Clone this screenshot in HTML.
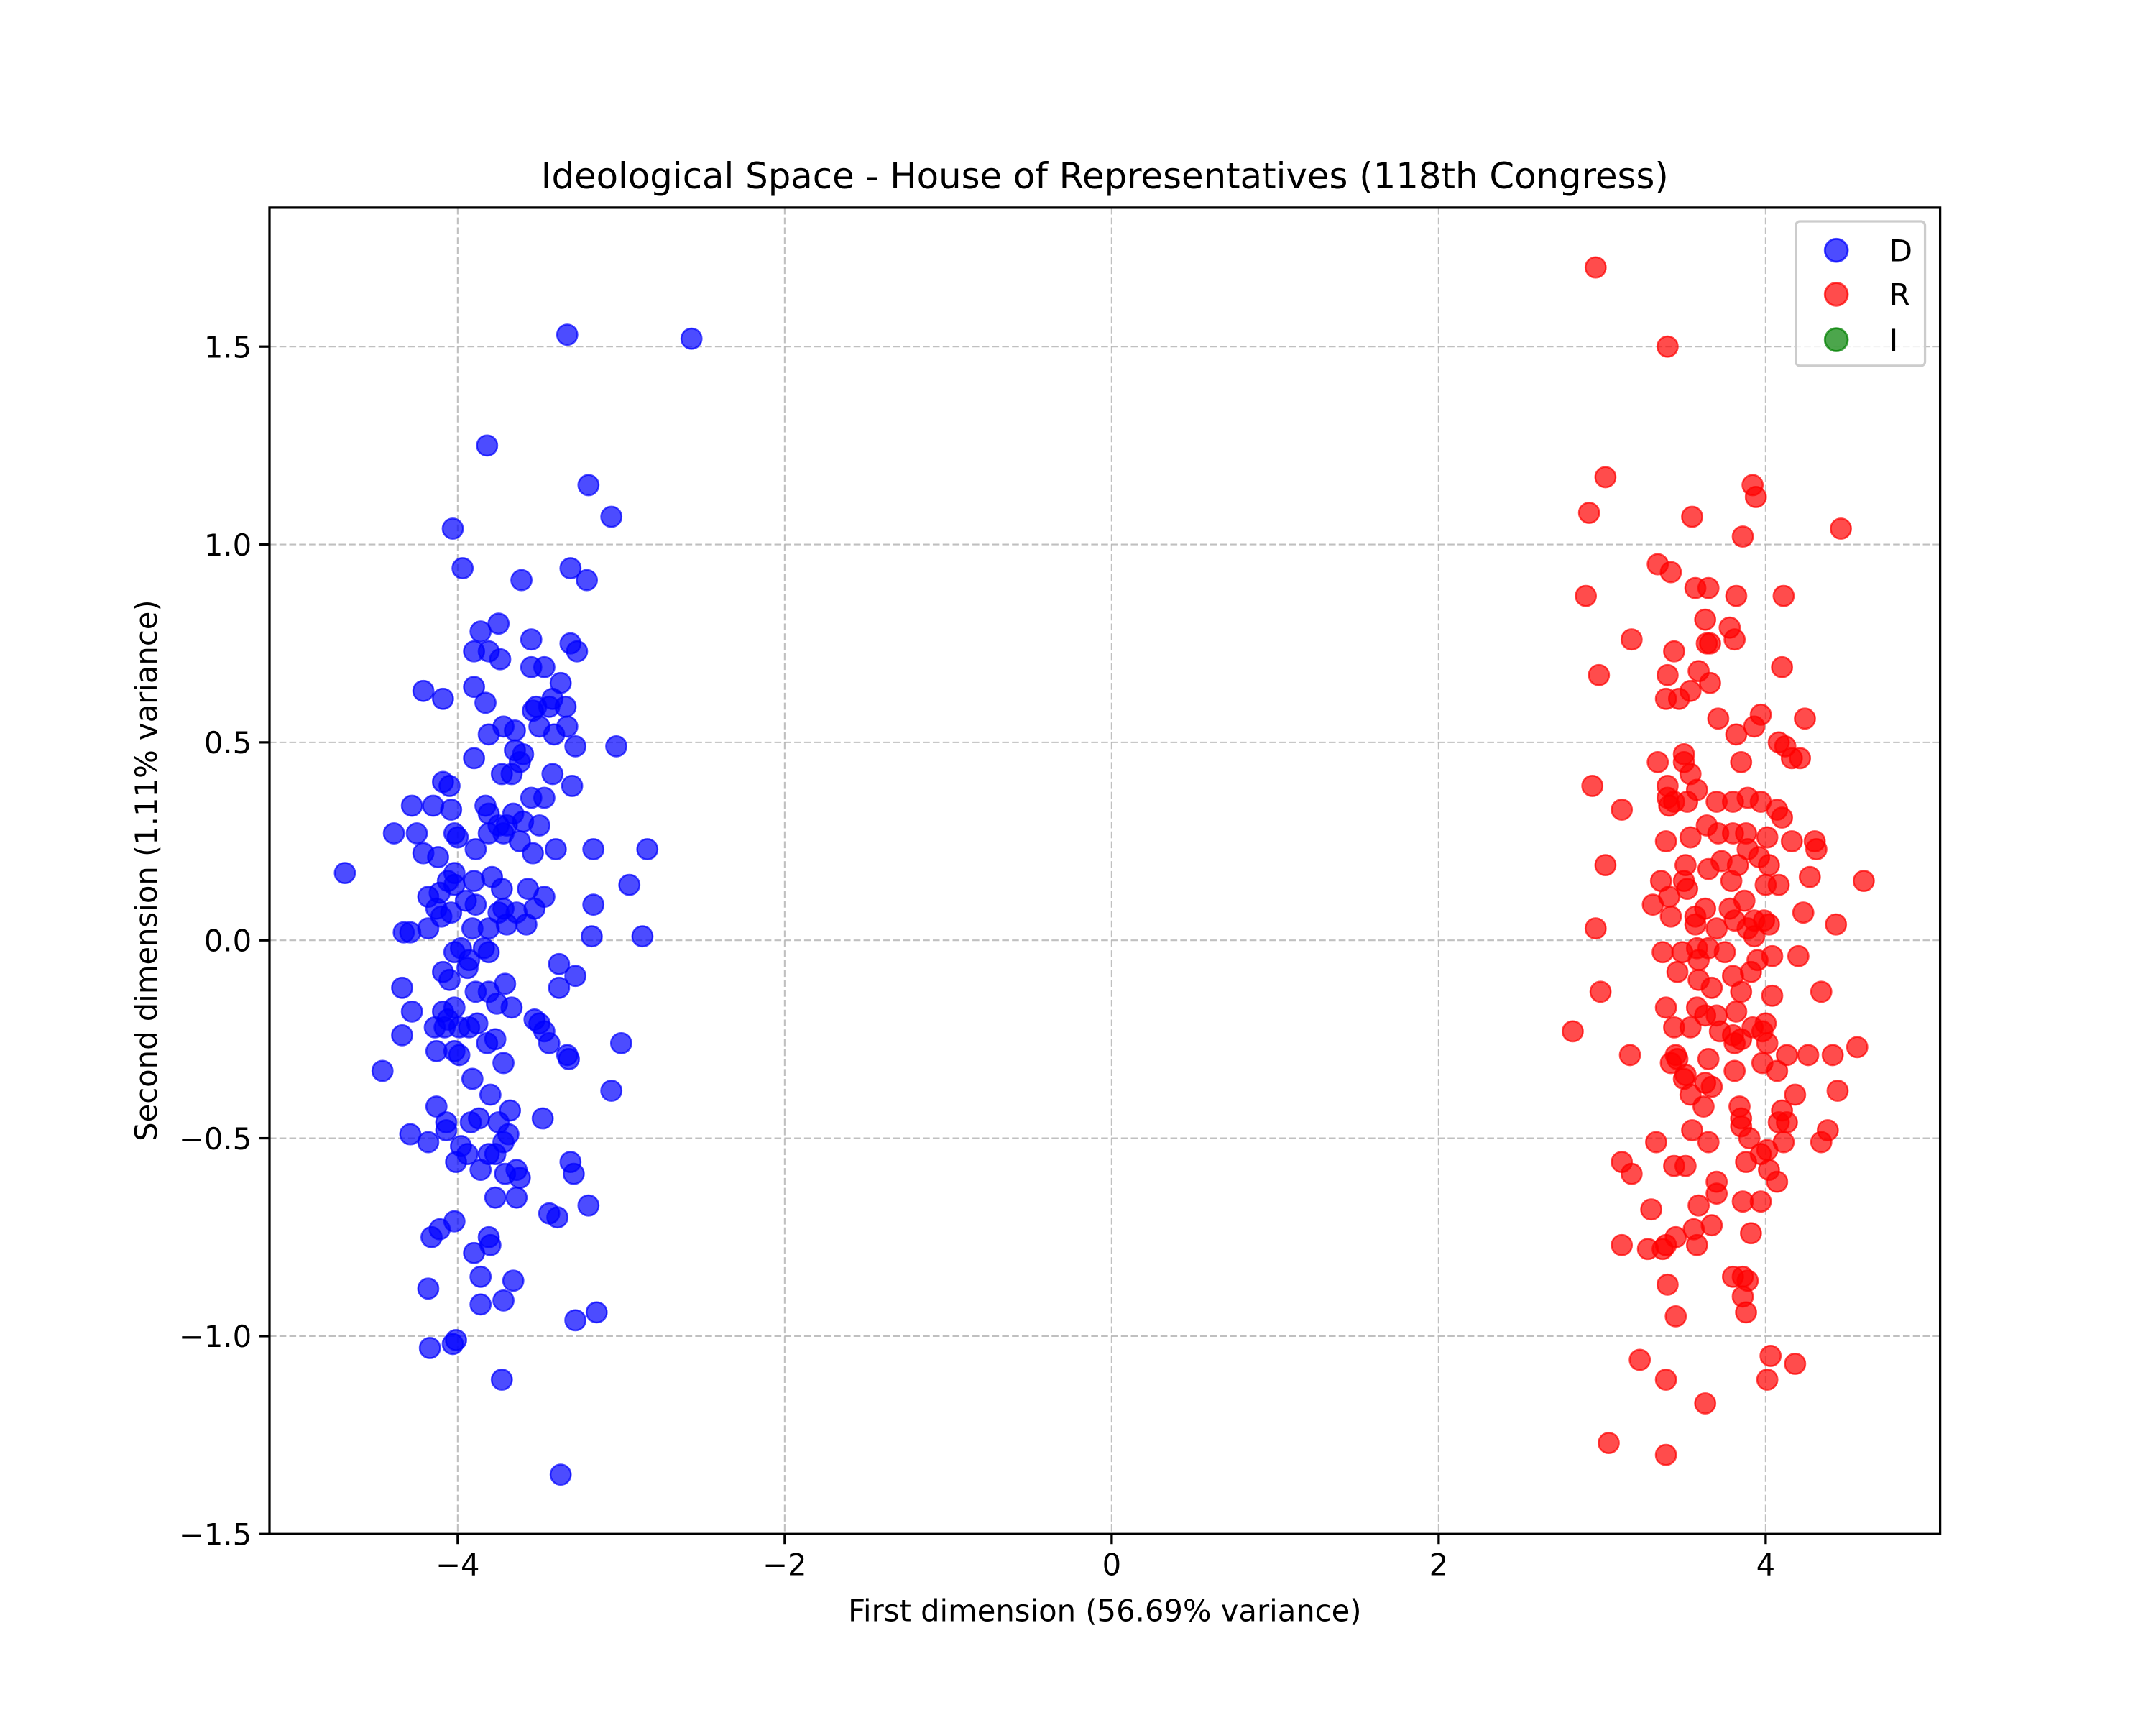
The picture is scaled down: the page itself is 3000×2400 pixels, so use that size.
<!DOCTYPE html>
<html><head><meta charset="utf-8"><style>
html,body{margin:0;padding:0;background:#fff}
svg{display:block}
text{font-family:"DejaVu Sans","Liberation Sans",sans-serif;fill:#000}
</style></head><body>
<svg id="chart" width="3000" height="2400" viewBox="0 0 1568 1254.4" xmlns="http://www.w3.org/2000/svg">
<rect width="1568" height="1254.4" fill="#fff"/>
<g id="grid"></g>
<g id="points"></g>
<rect x="196" y="151" width="1215" height="964.5" fill="none" stroke="#000" stroke-width="1.7"/>
<g id="ticks"></g>
<text x="803.5" y="137" font-size="26" text-anchor="middle">Ideological Space - House of Representatives (118th Congress)</text>
<text x="803.5" y="1179" font-size="21.8" text-anchor="middle">First dimension (56.69% variance)</text>
<text transform="translate(114,633) rotate(-90)" font-size="21.8" text-anchor="middle">Second dimension (1.11% variance)</text>
<g>
<rect x="1306" y="161" width="94" height="105" rx="3" fill="#fff" fill-opacity="0.8" stroke="#ccc" stroke-width="1.7"/>
<g><circle cx="1335.5" cy="182" r="8.3" fill="#0000ff" fill-opacity="0.7" stroke="#0000ff" stroke-opacity="0.7" stroke-width="1.5"/><text x="1374" y="190" font-size="21.8">D</text></g>
<g><circle cx="1335.5" cy="214" r="8.3" fill="#ff0000" fill-opacity="0.7" stroke="#ff0000" stroke-opacity="0.7" stroke-width="1.5"/><text x="1374" y="222" font-size="21.8">R</text></g>
<g><circle cx="1335.5" cy="247" r="8.3" fill="#008000" fill-opacity="0.7" stroke="#008000" stroke-opacity="0.7" stroke-width="1.5"/><text x="1374" y="255" font-size="21.8">I</text></g>
</g>
</svg>
<script>
const xTicks = [-4, -2, 0, 2, 4];
const xTickLabels = ["\u22124", "\u22122", "0", "2", "4"];
const yTicks = [-1.5, -1.0, -0.5, 0.0, 0.5, 1.0, 1.5];
const yTickLabels = ["\u22121.5", "\u22121.0", "\u22120.5", "0.0", "0.5", "1.0", "1.5"];
const demX = [-4.69,-3.33,-2.57,-3.82,-3.20,-4.03,-3.06,-3.97,-3.61,-3.31,-3.21,-3.75,-3.86,-3.55,-3.74,-3.31,-3.27,-4.21,-4.09,-3.90,-3.83,-3.37,-3.90,-3.81,-3.55,-3.47,-3.81,-3.72,-3.54,-3.44,-3.34,-3.65,-3.50,-3.33,-3.03,-3.42,-3.52,-3.90,-3.65,-3.62,-3.73,-3.41,-3.60,-3.28,-3.42,-3.67,-3.30,-4.28,-4.15,-4.04,-3.83,-3.81,-3.55,-3.47,-3.66,-3.60,-3.70,-3.75,-3.50,-4.05,-4.09,-4.02,-3.54,-3.40,-3.17,-2.84,-4.39,-4.25,-4.21,-4.12,-4.00,-3.89,-3.81,-3.72,-3.62,-4.06,-4.02,-3.90,-4.18,-4.11,-4.02,-3.79,-3.73,-3.57,-3.47,-3.72,-3.53,-3.64,-3.58,-3.17,-2.95,-4.13,-4.10,-4.04,-3.95,-3.89,-3.75,-3.70,-3.81,-4.33,-4.29,-4.18,-3.91,-3.98,-3.84,-4.02,-3.18,-2.87,-4.09,-4.05,-3.94,-3.81,-4.34,-3.71,-3.38,-3.28,-3.38,-4.28,-4.09,-4.06,-4.02,-3.89,-3.81,-3.76,-3.67,-3.88,-3.99,-3.53,-3.50,-4.14,-4.08,-3.99,-3.93,-3.47,-3.44,-4.34,-4.46,-4.13,-4.02,-3.72,-3.82,-3.77,-3.00,-3.33,-3.32,-3.06,-3.91,-3.80,-4.13,-4.07,-3.92,-3.87,-3.68,-3.75,-3.48,-4.07,-4.18,-4.29,-3.98,-3.81,-3.77,-3.72,-3.69,-3.86,-4.01,-3.94,-3.71,-3.62,-3.64,-3.77,-3.64,-3.31,-3.29,-3.20,-3.44,-3.39,-4.02,-4.11,-4.16,-3.81,-3.80,-3.90,-3.66,-3.86,-4.18,-3.86,-3.72,-3.15,-3.28,-4.17,-4.03,-4.01,-3.73,-3.37,-3.93];
const demY = [0.17,1.53,1.52,1.25,1.15,1.04,1.07,0.94,0.91,0.94,0.91,0.80,0.78,0.76,0.71,0.75,0.73,0.63,0.61,0.64,0.60,0.65,0.73,0.73,0.69,0.69,0.52,0.54,0.58,0.59,0.59,0.53,0.54,0.54,0.49,0.61,0.59,0.46,0.48,0.45,0.42,0.52,0.47,0.49,0.42,0.42,0.39,0.34,0.34,0.33,0.34,0.32,0.36,0.36,0.32,0.30,0.29,0.29,0.29,0.39,0.40,0.27,0.22,0.23,0.23,0.23,0.27,0.27,0.22,0.21,0.26,0.23,0.27,0.27,0.25,0.15,0.17,0.15,0.11,0.12,0.14,0.16,0.13,0.13,0.11,0.08,0.08,0.07,0.04,0.09,0.14,0.08,0.06,0.07,0.10,0.09,0.07,0.04,0.03,0.02,0.02,0.03,0.03,-0.02,-0.02,-0.03,0.01,0.01,-0.08,-0.10,-0.07,-0.03,-0.12,-0.11,-0.06,-0.09,-0.12,-0.18,-0.18,-0.20,-0.17,-0.13,-0.13,-0.16,-0.17,-0.21,-0.22,-0.20,-0.21,-0.22,-0.22,-0.29,-0.22,-0.23,-0.26,-0.24,-0.33,-0.28,-0.28,-0.31,-0.26,-0.25,-0.26,-0.29,-0.30,-0.38,-0.35,-0.39,-0.42,-0.46,-0.46,-0.45,-0.43,-0.46,-0.45,-0.48,-0.51,-0.49,-0.52,-0.54,-0.54,-0.51,-0.49,-0.58,-0.56,-0.54,-0.59,-0.60,-0.58,-0.65,-0.65,-0.56,-0.59,-0.67,-0.69,-0.70,-0.71,-0.73,-0.75,-0.75,-0.77,-0.79,-0.86,-0.85,-0.88,-0.92,-0.91,-0.94,-0.96,-1.03,-1.02,-1.01,-1.11,-1.35,-0.05];
const repX = [2.96,3.40,3.02,2.92,3.55,3.92,3.94,4.46,3.86,3.34,3.42,3.65,2.90,3.57,3.82,4.11,3.63,3.78,3.18,3.64,3.66,3.44,3.59,3.81,4.10,2.98,3.40,3.47,3.54,3.66,3.39,3.71,3.97,3.93,4.24,4.12,4.16,4.21,4.08,3.50,3.82,3.50,3.54,3.34,2.94,3.40,3.40,3.44,3.58,3.70,3.80,3.89,3.97,4.07,3.12,3.41,3.52,3.85,4.10,3.64,3.71,3.54,3.80,3.88,4.01,4.16,4.30,4.31,3.39,3.89,3.96,3.73,3.83,4.02,3.65,3.51,3.79,3.36,3.50,4.00,4.08,4.27,4.60,3.02,3.52,3.41,3.87,3.63,3.78,3.57,3.81,3.93,3.99,4.23,4.43,2.96,3.42,3.31,4.02,3.57,3.70,3.89,3.93,3.58,3.65,3.75,3.37,3.49,3.59,3.95,4.04,4.20,3.46,3.59,3.80,3.91,3.67,3.85,2.99,3.39,3.58,3.63,3.70,3.82,4.04,4.34,2.82,3.44,3.54,3.72,3.80,3.85,3.92,3.98,4.00,4.01,4.13,4.56,4.41,4.26,3.81,3.65,3.45,3.51,3.46,3.17,3.63,3.81,3.98,4.07,4.18,4.44,3.67,3.54,3.50,3.42,3.84,4.10,4.13,3.62,3.55,3.85,4.08,4.38,4.34,3.33,3.65,3.85,3.97,4.01,3.90,4.11,3.44,3.88,4.02,3.12,3.18,3.51,4.07,3.86,3.97,3.30,3.59,3.70,3.56,3.45,3.37,3.28,3.12,3.91,3.39,3.58,3.67,3.80,3.86,3.89,3.40,3.86,3.88,3.45,3.23,4.03,4.18,4.01,3.39,3.63,3.04,3.39,3.70];
const repY = [1.70,1.50,1.17,1.08,1.07,1.15,1.12,1.04,1.02,0.95,0.93,0.89,0.87,0.89,0.87,0.87,0.81,0.79,0.76,0.75,0.75,0.73,0.68,0.76,0.69,0.67,0.67,0.61,0.63,0.65,0.61,0.56,0.57,0.54,0.56,0.49,0.46,0.46,0.50,0.47,0.52,0.45,0.42,0.45,0.39,0.39,0.36,0.35,0.38,0.35,0.35,0.36,0.35,0.33,0.33,0.34,0.35,0.45,0.31,0.29,0.27,0.26,0.27,0.27,0.26,0.25,0.25,0.23,0.25,0.23,0.21,0.20,0.19,0.19,0.18,0.19,0.15,0.15,0.15,0.14,0.14,0.16,0.15,0.19,0.13,0.11,0.10,0.08,0.08,0.06,0.05,0.05,0.05,0.07,0.04,0.03,0.06,0.09,0.04,0.04,0.03,0.03,0.01,-0.02,-0.02,-0.03,-0.03,-0.03,-0.05,-0.05,-0.04,-0.04,-0.08,-0.10,-0.09,-0.08,-0.12,-0.13,-0.13,-0.17,-0.17,-0.19,-0.19,-0.18,-0.14,-0.13,-0.23,-0.22,-0.22,-0.23,-0.24,-0.25,-0.22,-0.23,-0.21,-0.26,-0.29,-0.27,-0.29,-0.29,-0.26,-0.30,-0.29,-0.34,-0.30,-0.29,-0.36,-0.33,-0.31,-0.33,-0.39,-0.38,-0.37,-0.39,-0.35,-0.31,-0.42,-0.43,-0.46,-0.42,-0.48,-0.45,-0.46,-0.48,-0.51,-0.51,-0.51,-0.47,-0.54,-0.53,-0.50,-0.51,-0.57,-0.56,-0.58,-0.56,-0.59,-0.57,-0.61,-0.66,-0.66,-0.68,-0.67,-0.64,-0.73,-0.75,-0.78,-0.78,-0.77,-0.74,-0.77,-0.77,-0.72,-0.85,-0.85,-0.86,-0.87,-0.90,-0.94,-0.95,-1.06,-1.05,-1.07,-1.11,-1.11,-1.17,-1.27,-1.30,-0.61];

const NS = "http://www.w3.org/2000/svg";
const X0 = 196, X1 = 1411, Y0 = 151, Y1 = 1115.5;
const XMIN = -5.151, XMAX = 5.067, YMIN = -1.5, YMAX = 1.851;
function sx(v){ return X0 + (v - XMIN) / (XMAX - XMIN) * (X1 - X0); }
function sy(v){ return Y1 - (v - YMIN) / (YMAX - YMIN) * (Y1 - Y0); }
function mk(tag, attrs, parent){ const e = document.createElementNS(NS, tag); for (const k in attrs) e.setAttribute(k, attrs[k]); parent.appendChild(e); return e; }

const grid = document.getElementById('grid');
const ticks = document.getElementById('ticks');
const pts = document.getElementById('points');

xTicks.forEach((v, i) => {
  const x = sx(v);
  const g = mk('line', {x1:x, x2:x, y1:Y0, y2:Y1, stroke:'#b0b0b0', 'stroke-opacity':0.8, 'stroke-width':1.1, 'stroke-dasharray':'5,2.2'}, grid);
  
  
  const t = mk('line', {x1:x, x2:x, y1:Y1, y2:Y1 + 7.3, stroke:'#000', 'stroke-width':1.7}, ticks);
  
  
  const l = mk('text', {x:x, y:Y1 + 30, 'font-size':21.8, 'text-anchor':'middle'}, ticks);
  l.textContent = xTickLabels[i];
  
  
});
yTicks.forEach((v, i) => {
  const y = sy(v);
  const g = mk('line', {x1:X0, x2:X1, y1:y, y2:y, stroke:'#b0b0b0', 'stroke-opacity':0.8, 'stroke-width':1.1, 'stroke-dasharray':'5,2.2'}, grid);
  
  
  const t = mk('line', {x1:X0 - 7.3, x2:X0, y1:y, y2:y, stroke:'#000', 'stroke-width':1.7}, ticks);
  
  
  const l = mk('text', {x:X0 - 13, y:y + 8, 'font-size':21.8, 'text-anchor':'end'}, ticks);
  l.textContent = yTickLabels[i];
  
  
});

function drawSeries(xs, ys, color, name){
  for (let i = 0; i < xs.length; i++){
    const c = mk('circle', {cx:sx(xs[i]), cy:sy(ys[i]), r:7.4, fill:color, 'fill-opacity':0.7, stroke:color, 'stroke-opacity':0.7, 'stroke-width':1.3}, pts);
    
    
  }
}
drawSeries(demX, demY, '#0000ff', 'point-democrat');
drawSeries(repX, repY, '#ff0000', 'point-republican');
</script>
</body></html>
